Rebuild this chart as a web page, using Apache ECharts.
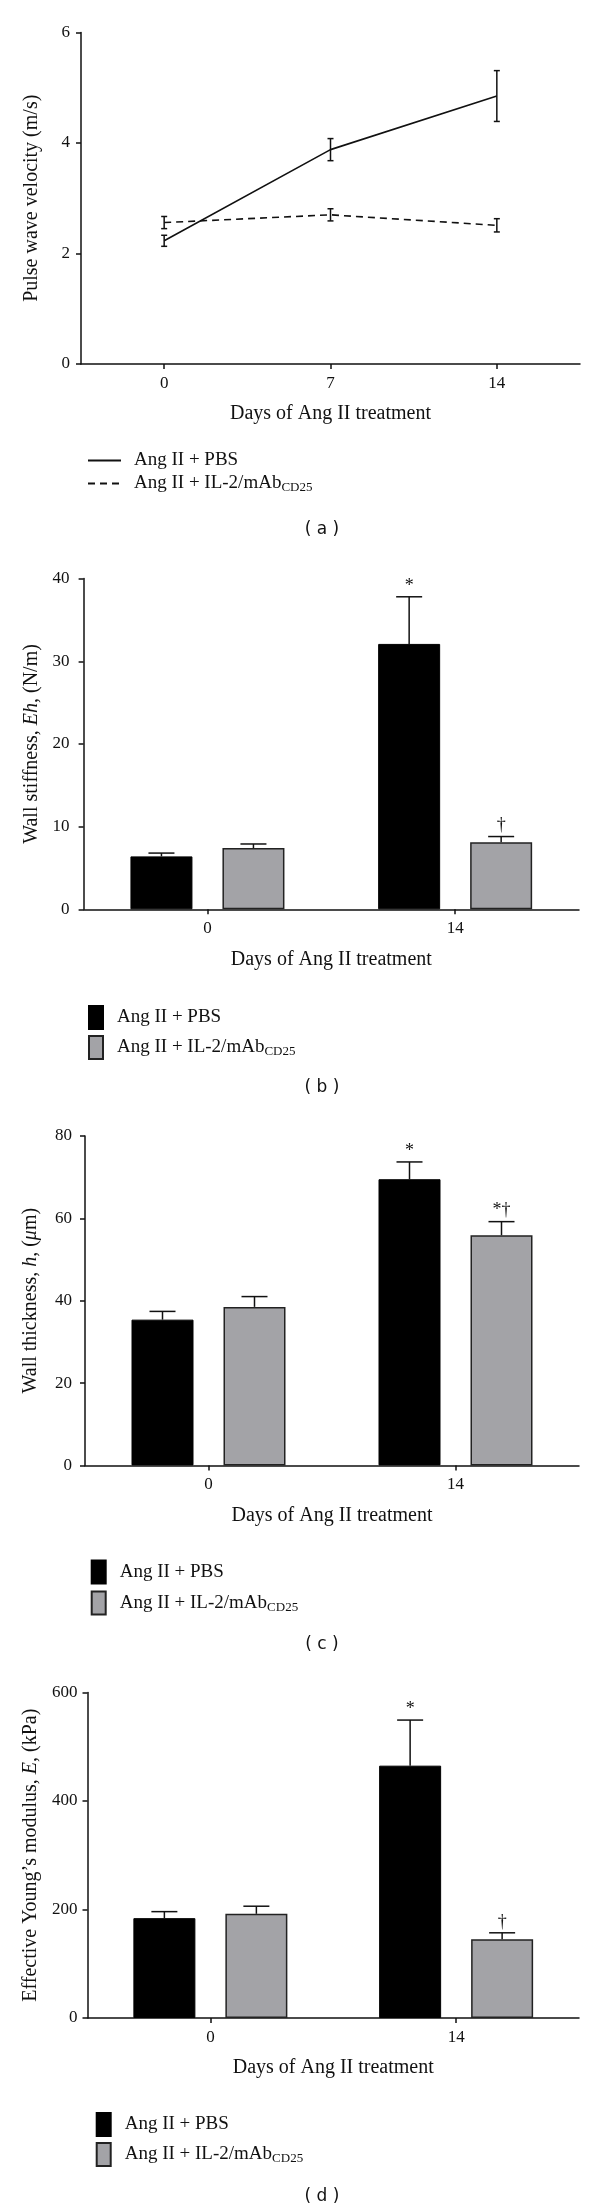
<!DOCTYPE html>
<html><head><meta charset="utf-8">
<script src="https://cdn.jsdelivr.net/npm/echarts@6/dist/echarts.min.js"></script>
<style>html,body{margin:0;padding:0;background:#fff;width:600px;height:2212px;overflow:hidden}.p{position:absolute;left:0;width:600px;}</style>
</head><body>
<div id="pa" class="p" style="top:0;height:553px"></div>
<div id="pb" class="p" style="top:553px;height:560px"></div>
<div id="pc" class="p" style="top:1113px;height:555px"></div>
<div id="pd" class="p" style="top:1668px;height:544px"></div>
<script>
// ---------- data ----------
const nameSub = 'CD25';
const namePBS = 'Ang II + PBS';
const nameIL2 = 'Ang II + IL-2/mAb' + nameSub;
const xTitle = 'Days of Ang II treatment';

// (a) pulse wave velocity
const daysA = ['0', '7', '14'];
const pwvPBS = [2.23, 3.88, 4.85];
const pwvPBSErr = [0.10, 0.20, 0.46];
const pwvIL2 = [2.56, 2.70, 2.51];
const pwvIL2Err = [0.11, 0.11, 0.12];

// (b)(c)(d) bars
const daysBar = ['0', '14'];
const stiffPBS = [6.4, 32.1];
const stiffPBSErr = [0.4, 5.7];
const stiffIL2 = [7.4, 8.1];
const stiffIL2Err = [0.5, 0.7];
const stiffNotesPBS = ['', '*'];
const stiffNotesIL2 = ['', '\u2020'];

const thickPBS = [35.4, 69.5];
const thickPBSErr = [2.0, 4.2];
const thickIL2 = [38.5, 55.9];
const thickIL2Err = [2.5, 3.3];
const thickNotesPBS = ['', '*'];
const thickNotesIL2 = ['', '*\u2020'];

const modPBS = [184, 465];
const modPBSErr = [12, 84];
const modIL2 = [192, 145];
const modIL2Err = [14, 12];
const modNotesPBS = ['', '*'];
const modNotesIL2 = ['', '\u2020'];

// ---------- style ----------
const SERIF = '"Liberation Serif", "Times New Roman", serif';
const INK = '#111';
const GRAY = '#a3a3a7';
const BAR_W = 62, BAR_GAP = 30;

function legendFmt(name) {
  if (name.endsWith(nameSub)) return '{n|' + name.slice(0, -nameSub.length) + '}{s|' + nameSub + '}';
  return '{n|' + name + '}';
}
const legendRich = {
  n: { fontFamily: SERIF, fontSize: 19, lineHeight: 22, color: INK },
  s: { fontFamily: SERIF, fontSize: 13, lineHeight: 11, verticalAlign: 'bottom', color: INK }
};

function errRender(barMode, sIdx, vals, errs, notes) {
  return function (params, api) {
    const i = params.dataIndex;
    const v = vals[i], e = errs[i];
    const base = api.coord([i, v]);
    const hi = api.coord([i, v + e]);
    const lo = barMode ? base : api.coord([i, v - e]);
    const x = base[0] + (barMode ? (sIdx === 0 ? -1 : 1) * (BAR_W + BAR_GAP) / 2 : 0);
    const cap = barMode ? 13 : 3;
    const st = { stroke: INK, lineWidth: 1.5 };
    const ch = [
      { type: 'line', shape: { x1: x, y1: lo[1], x2: x, y2: hi[1] }, style: st },
      { type: 'line', shape: { x1: x - cap, y1: hi[1], x2: x + cap, y2: hi[1] }, style: st }
    ];
    if (!barMode) ch.push({ type: 'line', shape: { x1: x - cap, y1: lo[1], x2: x + cap, y2: lo[1] }, style: st });
    if (notes && notes[i]) {
      ch.push({ type: 'text', x: x, y: hi[1] - 11, style: { text: notes[i], font: '18px ' + SERIF, fill: INK, align: 'center', verticalAlign: 'middle' } });
    }
    return { type: 'group', children: ch };
  };
}

function makeChart(id, cfg) {
  const chart = echarts.init(document.getElementById(id), null, { renderer: 'canvas' });
  const isBar = cfg.type === 'bar';
  const series = [];
  if (isBar) {
    series.push({ type: 'bar', name: namePBS, data: cfg.v1, barWidth: BAR_W, barGap: (BAR_GAP / BAR_W * 100) + '%',
      itemStyle: { color: '#000', borderColor: '#000', borderWidth: 1 }, z: 2 });
    series.push({ type: 'bar', name: nameIL2, data: cfg.v2, barWidth: BAR_W,
      itemStyle: { color: GRAY, borderColor: '#222', borderWidth: 1.5 }, z: 2 });
  } else {
    series.push({ type: 'line', name: namePBS, data: cfg.v1, symbol: 'none', lineStyle: { color: INK, width: 1.6 }, itemStyle: { color: INK }, z: 3 });
    series.push({ type: 'line', name: nameIL2, data: cfg.v2, symbol: 'none', lineStyle: { color: INK, width: 1.6, type: [7, 5] }, itemStyle: { color: INK }, z: 3 });
  }
  series.push({ type: 'custom', coordinateSystem: 'cartesian2d', data: cfg.v1.map((v, i) => [i, v]), encode: { x: 0, y: 1 },
    renderItem: errRender(isBar, 0, cfg.v1, cfg.e1, cfg.n1), z: 4, silent: true });
  series.push({ type: 'custom', coordinateSystem: 'cartesian2d', data: cfg.v2.map((v, i) => [i, v]), encode: { x: 0, y: 1 },
    renderItem: errRender(isBar, 1, cfg.v2, cfg.e2, cfg.n2), z: 4, silent: true });

  const legend = {
    orient: 'vertical', left: cfg.legend[0], top: cfg.legend[1], itemGap: cfg.legend[2],
    itemWidth: isBar ? 14 : 33, itemHeight: isBar ? 23 : 14,
    data: [namePBS, nameIL2], selectedMode: false,
    formatter: legendFmt,
    textStyle: { fontFamily: SERIF, fontSize: 19, color: INK, padding: [0, 0, 0, isBar ? 9 : 8], rich: legendRich }
  };
  if (isBar) legend.icon = 'rect';
  else legend.itemStyle = { opacity: 0 };

  const option = {
    animation: false,
    backgroundColor: '#fff',
    grid: { left: cfg.grid[0], top: cfg.grid[1], width: cfg.grid[2], height: cfg.grid[3], containLabel: false },
    xAxis: {
      type: 'category', data: cfg.cats, boundaryGap: true,
      axisLine: { show: true, lineStyle: { color: INK, width: 1.5 } },
      axisTick: { show: true, alignWithLabel: true, length: 5, lineStyle: { color: INK, width: 1.5 } },
      splitLine: { show: false },
      axisLabel: { fontFamily: SERIF, fontSize: 17, color: INK, margin: 11 },
      name: xTitle, nameLocation: 'middle', nameGap: 40,
      nameTextStyle: { fontFamily: SERIF, fontSize: 20, color: INK }
    },
    yAxis: {
      type: 'value', min: 0, max: cfg.max, interval: cfg.interval,
      axisLine: { show: true, lineStyle: { color: INK, width: 1.5 } },
      axisTick: { show: true, length: 5, lineStyle: { color: INK, width: 1.5 } },
      splitLine: { show: false },
      axisLabel: { fontFamily: SERIF, fontSize: 17, color: INK, margin: cfg.labelMargin },
      name: cfg.yName, nameLocation: 'middle', nameGap: cfg.nameGap, nameRotate: 90,
      nameTextStyle: { fontFamily: SERIF, fontSize: 20, color: INK, rich: {
        n: { fontFamily: SERIF, fontSize: 20, color: INK },
        i: { fontFamily: SERIF, fontSize: 20, color: INK, fontStyle: 'italic' } } }
    },
    legend: legend,
    graphic: [{ type: 'text', x: 322, y: cfg.caption[1], style: { text: cfg.caption[0], font: '17px "DejaVu Sans", Verdana, sans-serif', fill: INK, align: 'center', verticalAlign: 'middle' } }],
    series: series
  };
  chart.setOption(option);
}

makeChart('pa', { type: 'line', cats: daysA, v1: pwvPBS, e1: pwvPBSErr, v2: pwvIL2, e2: pwvIL2Err,
  max: 6, interval: 2, grid: [81, 32.5, 499, 331.5], labelMargin: 11, nameGap: 39,
  yName: 'Pulse wave velocity (m/s)', legend: [82, 446, 4], caption: ['( a )', 530] });

makeChart('pb', { type: 'bar', cats: daysBar, v1: stiffPBS, e1: stiffPBSErr, v2: stiffIL2, e2: stiffIL2Err,
  n1: stiffNotesPBS, n2: stiffNotesIL2,
  max: 40, interval: 10, grid: [83.6, 25.6, 495.4, 330.7], labelMargin: 14, nameGap: 41,
  yName: '{n|Wall stiffness, }{i|Eh}{n|, (N/m)}', legend: [83, 447, 5], caption: ['( b )', 535] });

makeChart('pc', { type: 'bar', cats: daysBar, v1: thickPBS, e1: thickPBSErr, v2: thickIL2, e2: thickIL2Err,
  n1: thickNotesPBS, n2: thickNotesIL2,
  max: 80, interval: 20, grid: [85, 23, 494, 329.4], labelMargin: 13, nameGap: 44,
  yName: '{n|Wall thickness, }{i|h}{n|, (}{i|\u03bc}{n|m)}', legend: [85.7, 441.5, 6], caption: ['( c )', 532] });

makeChart('pd', { type: 'bar', cats: daysBar, v1: modPBS, e1: modPBSErr, v2: modIL2, e2: modIL2Err,
  n1: modNotesPBS, n2: modNotesIL2,
  max: 600, interval: 200, grid: [87.5, 24.4, 491.5, 325.6], labelMargin: 10, nameGap: 46,
  yName: '{n|Effective Young\u2019s modulus, }{i|E}{n|, (kPa)}', legend: [90.7, 439, 5], caption: ['( d )', 529] });
</script>
</body></html>
